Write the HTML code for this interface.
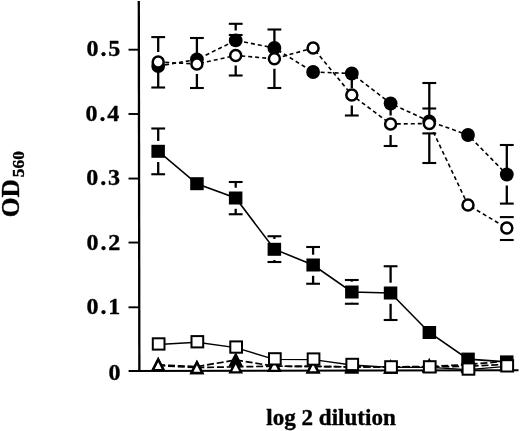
<!DOCTYPE html>
<html><head><meta charset="utf-8"><title>OD560 vs log 2 dilution</title>
<style>html,body{margin:0;padding:0;background:#fff}svg{display:block}</style></head>
<body>
<svg width="520" height="431" viewBox="0 0 520 431">
<rect width="520" height="431" fill="#fff"/>
<g stroke="#000" fill="none">
<line x1="138.8" y1="1" x2="139.35" y2="371.5" stroke-width="2.3"/>
<line x1="128.6" y1="371.05" x2="518.5" y2="370.2" stroke-width="2"/>
<line x1="128.5" y1="49.7" x2="139" y2="49.7" stroke-width="1.9"/>
<line x1="128.5" y1="114.0" x2="139" y2="114.0" stroke-width="1.9"/>
<line x1="128.5" y1="178.55" x2="139" y2="178.55" stroke-width="1.9"/>
<line x1="128.5" y1="242.55" x2="139" y2="242.55" stroke-width="1.9"/>
<line x1="128.5" y1="307.3" x2="139" y2="307.3" stroke-width="1.9"/>
</g>
<polyline points="158.2,364.9 196.9,366.6 235.7,360.0 274.4,366.2 313.1,366.4 351.8,366.9 390.6,366.9 429.3,366.5 468.0,364.5 506.8,361.2" fill="none" stroke="#000" stroke-width="1.7" stroke-dasharray="7 2.8"/>
<polyline points="158.2,365.5 196.9,367.6 235.7,366.8 274.4,366.2 313.1,366.4 351.8,366.9 390.6,366.9 429.3,367.0 468.0,366.3 506.8,364.3" fill="none" stroke="#000" stroke-width="1.7" stroke-dasharray="7 2.8"/>
<polygon points="158.2,359.5 163.6,370.1 152.8,370.1" fill="#000" stroke="#000" stroke-width="2.4" stroke-linejoin="miter"/>
<polygon points="196.9,362.4 202.3,373.0 191.5,373.0" fill="#000" stroke="#000" stroke-width="2.4" stroke-linejoin="miter"/>
<polygon points="235.7,354.6 241.1,365.2 230.3,365.2" fill="#000" stroke="#000" stroke-width="2.4" stroke-linejoin="miter"/>
<polygon points="274.4,360.3 279.8,370.9 269.0,370.9" fill="#000" stroke="#000" stroke-width="2.4" stroke-linejoin="miter"/>
<polygon points="313.1,361.8 318.5,372.4 307.7,372.4" fill="#000" stroke="#000" stroke-width="2.4" stroke-linejoin="miter"/>
<polygon points="351.8,361.9 357.2,372.5 346.4,372.5" fill="#000" stroke="#000" stroke-width="2.4" stroke-linejoin="miter"/>
<polygon points="390.6,362.0 396.0,372.6 385.2,372.6" fill="#000" stroke="#000" stroke-width="2.4" stroke-linejoin="miter"/>
<polygon points="429.3,360.5 434.7,371.1 423.9,371.1" fill="#000" stroke="#000" stroke-width="2.4" stroke-linejoin="miter"/>
<polygon points="468.0,359.8 473.4,370.4 462.6,370.4" fill="#000" stroke="#000" stroke-width="2.4" stroke-linejoin="miter"/>
<polygon points="506.8,358.8 512.2,369.4 501.4,369.4" fill="#000" stroke="#000" stroke-width="2.4" stroke-linejoin="miter"/>
<polygon points="158.2,359.5 163.6,370.1 152.8,370.1" fill="#fff" stroke="#000" stroke-width="2.4" stroke-linejoin="miter"/>
<polygon points="196.9,362.4 202.3,373.0 191.5,373.0" fill="#fff" stroke="#000" stroke-width="2.4" stroke-linejoin="miter"/>
<polygon points="235.7,361.8 241.1,372.4 230.3,372.4" fill="#fff" stroke="#000" stroke-width="2.4" stroke-linejoin="miter"/>
<polygon points="274.4,360.3 279.8,370.9 269.0,370.9" fill="#fff" stroke="#000" stroke-width="2.4" stroke-linejoin="miter"/>
<polygon points="313.1,361.8 318.5,372.4 307.7,372.4" fill="#fff" stroke="#000" stroke-width="2.4" stroke-linejoin="miter"/>
<polygon points="351.8,360.8 357.2,371.4 346.4,371.4" fill="#fff" stroke="#000" stroke-width="2.4" stroke-linejoin="miter"/>
<polygon points="390.6,362.0 396.0,372.6 385.2,372.6" fill="#fff" stroke="#000" stroke-width="2.4" stroke-linejoin="miter"/>
<polygon points="429.3,361.2 434.7,371.8 423.9,371.8" fill="#fff" stroke="#000" stroke-width="2.4" stroke-linejoin="miter"/>
<polygon points="468.0,361.2 473.4,371.8 462.6,371.8" fill="#fff" stroke="#000" stroke-width="2.4" stroke-linejoin="miter"/>
<polygon points="506.8,359.8 512.2,370.4 501.4,370.4" fill="#fff" stroke="#000" stroke-width="2.4" stroke-linejoin="miter"/>
<line x1="158.2" y1="37" x2="158.2" y2="52" stroke="#000" stroke-width="2.3"/>
<line x1="158.2" y1="66" x2="158.2" y2="87.5" stroke="#000" stroke-width="2.3"/>
<line x1="151.3" y1="37.1" x2="165.1" y2="37.1" stroke="#000" stroke-width="2.1"/>
<line x1="151.3" y1="87.5" x2="165.1" y2="87.5" stroke="#000" stroke-width="2.1"/>
<line x1="196.9" y1="38" x2="196.9" y2="59" stroke="#000" stroke-width="2.3"/>
<line x1="196.9" y1="74" x2="196.9" y2="88" stroke="#000" stroke-width="2.3"/>
<line x1="190.0" y1="38" x2="203.8" y2="38" stroke="#000" stroke-width="2.1"/>
<line x1="190.0" y1="88" x2="203.8" y2="88" stroke="#000" stroke-width="2.1"/>
<line x1="235.7" y1="23.8" x2="235.7" y2="30.5" stroke="#000" stroke-width="2.3"/>
<line x1="235.7" y1="65.5" x2="235.7" y2="75.5" stroke="#000" stroke-width="2.3"/>
<line x1="228.8" y1="23.8" x2="242.6" y2="23.8" stroke="#000" stroke-width="2.1"/>
<line x1="228.8" y1="35" x2="242.6" y2="35" stroke="#000" stroke-width="2.1"/>
<line x1="228.8" y1="75.5" x2="242.6" y2="75.5" stroke="#000" stroke-width="2.1"/>
<line x1="274.4" y1="29.5" x2="274.4" y2="47" stroke="#000" stroke-width="2.3"/>
<line x1="274.4" y1="68.75" x2="274.4" y2="88" stroke="#000" stroke-width="2.3"/>
<line x1="267.5" y1="29.5" x2="281.3" y2="29.5" stroke="#000" stroke-width="2.1"/>
<line x1="267.5" y1="88" x2="281.3" y2="88" stroke="#000" stroke-width="2.1"/>
<line x1="351.8" y1="73" x2="351.8" y2="88" stroke="#000" stroke-width="2.3"/>
<line x1="351.8" y1="105.5" x2="351.8" y2="115.5" stroke="#000" stroke-width="2.3"/>
<line x1="344.9" y1="115.5" x2="358.7" y2="115.5" stroke="#000" stroke-width="2.1"/>
<line x1="390.6" y1="103.5" x2="390.6" y2="115.5" stroke="#000" stroke-width="2.3"/>
<line x1="390.6" y1="135" x2="390.6" y2="146" stroke="#000" stroke-width="2.3"/>
<line x1="383.7" y1="146" x2="397.5" y2="146" stroke="#000" stroke-width="2.1"/>
<line x1="429.3" y1="83" x2="429.3" y2="120" stroke="#000" stroke-width="2.3"/>
<line x1="422.4" y1="83" x2="436.2" y2="83" stroke="#000" stroke-width="2.1"/>
<line x1="422.4" y1="108.5" x2="436.2" y2="108.5" stroke="#000" stroke-width="2.1"/>
<line x1="429.3" y1="133.4" x2="429.3" y2="163" stroke="#000" stroke-width="2.3"/>
<line x1="422.4" y1="133.4" x2="436.2" y2="133.4" stroke="#000" stroke-width="2.1"/>
<line x1="422.4" y1="163" x2="436.2" y2="163" stroke="#000" stroke-width="2.1"/>
<line x1="506.8" y1="145" x2="506.8" y2="170" stroke="#000" stroke-width="2.3"/>
<line x1="506.8" y1="185.5" x2="506.8" y2="203.6" stroke="#000" stroke-width="2.3"/>
<line x1="499.9" y1="145" x2="513.7" y2="145" stroke="#000" stroke-width="2.1"/>
<line x1="499.9" y1="203.6" x2="513.7" y2="203.6" stroke="#000" stroke-width="2.1"/>
<line x1="499.9" y1="217.1" x2="513.7" y2="217.1" stroke="#000" stroke-width="2.1"/>
<line x1="499.9" y1="240" x2="513.7" y2="240" stroke="#000" stroke-width="2.1"/>
<polyline points="158.2,66.0 196.9,59.5 235.7,40.4 274.4,48.0 313.1,72.0 351.8,73.5 390.6,103.5 429.3,121.3 468.0,135.0 506.8,174.5" fill="none" stroke="#000" stroke-width="1.6" stroke-dasharray="4 3"/>
<polyline points="158.2,62.0 196.9,64.0 235.7,55.5 274.4,58.8 313.1,48.0 351.8,95.0 390.6,124.0 429.3,123.5 468.0,205.0 506.8,228.0" fill="none" stroke="#000" stroke-width="1.6" stroke-dasharray="4 3"/>
<circle cx="158.2" cy="66" r="6.9" fill="#000"/>
<circle cx="196.9" cy="59.5" r="6.9" fill="#000"/>
<circle cx="235.7" cy="40.4" r="6.9" fill="#000"/>
<circle cx="274.4" cy="48" r="6.9" fill="#000"/>
<circle cx="313.1" cy="72" r="6.9" fill="#000"/>
<circle cx="351.8" cy="73.5" r="6.9" fill="#000"/>
<circle cx="390.6" cy="103.5" r="6.9" fill="#000"/>
<circle cx="429.3" cy="121.3" r="6.9" fill="#000"/>
<circle cx="468.0" cy="135" r="6.9" fill="#000"/>
<circle cx="506.8" cy="174.5" r="6.9" fill="#000"/>
<circle cx="158.2" cy="62" r="5.5" fill="#fff" stroke="#000" stroke-width="2.5"/>
<circle cx="196.9" cy="64" r="5.5" fill="#fff" stroke="#000" stroke-width="2.5"/>
<circle cx="235.7" cy="55.5" r="5.5" fill="#fff" stroke="#000" stroke-width="2.5"/>
<circle cx="274.4" cy="58.75" r="5.5" fill="#fff" stroke="#000" stroke-width="2.5"/>
<circle cx="313.1" cy="48" r="5.5" fill="#fff" stroke="#000" stroke-width="2.5"/>
<circle cx="351.8" cy="95" r="5.5" fill="#fff" stroke="#000" stroke-width="2.5"/>
<circle cx="390.6" cy="124" r="5.5" fill="#fff" stroke="#000" stroke-width="2.5"/>
<circle cx="429.3" cy="123.5" r="5.5" fill="#fff" stroke="#000" stroke-width="2.5"/>
<circle cx="468.0" cy="205" r="5.5" fill="#fff" stroke="#000" stroke-width="2.5"/>
<circle cx="506.8" cy="228" r="5.5" fill="#fff" stroke="#000" stroke-width="2.5"/>
<line x1="151.3" y1="128.5" x2="165.1" y2="128.5" stroke="#000" stroke-width="2.1"/>
<line x1="151.3" y1="174.25" x2="165.1" y2="174.25" stroke="#000" stroke-width="2.1"/>
<line x1="158.2" y1="128.5" x2="158.2" y2="140.95" stroke="#000" stroke-width="2.3"/>
<line x1="158.2" y1="162.05" x2="158.2" y2="174.25" stroke="#000" stroke-width="2.3"/>
<line x1="228.8" y1="182" x2="242.6" y2="182" stroke="#000" stroke-width="2.1"/>
<line x1="228.8" y1="214.25" x2="242.6" y2="214.25" stroke="#000" stroke-width="2.1"/>
<line x1="235.7" y1="182" x2="235.7" y2="187.7" stroke="#000" stroke-width="2.3"/>
<line x1="235.7" y1="208.8" x2="235.7" y2="214.25" stroke="#000" stroke-width="2.3"/>
<line x1="267.5" y1="236.25" x2="281.3" y2="236.25" stroke="#000" stroke-width="2.1"/>
<line x1="267.5" y1="262" x2="281.3" y2="262" stroke="#000" stroke-width="2.1"/>
<line x1="274.4" y1="236.25" x2="274.4" y2="238.95" stroke="#000" stroke-width="2.3"/>
<line x1="274.4" y1="260.05" x2="274.4" y2="262" stroke="#000" stroke-width="2.3"/>
<line x1="306.2" y1="247" x2="320.0" y2="247" stroke="#000" stroke-width="2.1"/>
<line x1="306.2" y1="283.75" x2="320.0" y2="283.75" stroke="#000" stroke-width="2.1"/>
<line x1="313.1" y1="247" x2="313.1" y2="254.7" stroke="#000" stroke-width="2.3"/>
<line x1="313.1" y1="275.8" x2="313.1" y2="283.75" stroke="#000" stroke-width="2.3"/>
<line x1="344.9" y1="280" x2="358.7" y2="280" stroke="#000" stroke-width="2.1"/>
<line x1="344.9" y1="303.75" x2="358.7" y2="303.75" stroke="#000" stroke-width="2.1"/>
<line x1="351.8" y1="280" x2="351.8" y2="281.7" stroke="#000" stroke-width="2.3"/>
<line x1="351.8" y1="302.8" x2="351.8" y2="303.75" stroke="#000" stroke-width="2.3"/>
<line x1="383.7" y1="266.25" x2="397.5" y2="266.25" stroke="#000" stroke-width="2.1"/>
<line x1="383.7" y1="320" x2="397.5" y2="320" stroke="#000" stroke-width="2.1"/>
<line x1="390.6" y1="266.25" x2="390.6" y2="282.7" stroke="#000" stroke-width="2.3"/>
<line x1="390.6" y1="303.8" x2="390.6" y2="320" stroke="#000" stroke-width="2.3"/>
<polyline points="158.2,151.2 196.9,183.8 235.7,198.0 274.4,249.2 313.1,265.0 351.8,292.0 390.6,293.0 429.3,332.5 468.0,359.1 506.8,361.9" fill="none" stroke="#000" stroke-width="1.6"/>
<rect x="151.4" y="144.8" width="13.5" height="13" fill="#000"/>
<rect x="190.2" y="177.2" width="13.5" height="13" fill="#000"/>
<rect x="228.9" y="191.5" width="13.5" height="13" fill="#000"/>
<rect x="267.6" y="242.8" width="13.5" height="13" fill="#000"/>
<rect x="306.4" y="258.5" width="13.5" height="13" fill="#000"/>
<rect x="345.1" y="285.5" width="13.5" height="13" fill="#000"/>
<rect x="383.8" y="286.5" width="13.5" height="13" fill="#000"/>
<rect x="422.6" y="326.0" width="13.5" height="13" fill="#000"/>
<rect x="461.3" y="352.6" width="13.5" height="13" fill="#000"/>
<rect x="500.0" y="355.4" width="13.5" height="13" fill="#000"/>
<polyline points="158.2,344.5 196.9,342.3 235.7,347.6 274.4,359.4 313.1,359.6 351.8,365.0 390.6,367.4 429.3,367.4 468.0,369.6 506.8,366.4" fill="none" stroke="#000" stroke-width="1.4"/>
<rect x="152.8" y="338.3" width="11.7" height="11.3" fill="#fff" stroke="#000" stroke-width="2"/>
<rect x="191.5" y="336.1" width="11.7" height="11.3" fill="#fff" stroke="#000" stroke-width="2"/>
<rect x="230.3" y="341.4" width="11.7" height="11.3" fill="#fff" stroke="#000" stroke-width="2"/>
<rect x="269.0" y="353.2" width="11.7" height="11.3" fill="#fff" stroke="#000" stroke-width="2"/>
<rect x="307.7" y="353.4" width="11.7" height="11.3" fill="#fff" stroke="#000" stroke-width="2"/>
<rect x="346.4" y="358.8" width="11.7" height="11.3" fill="#fff" stroke="#000" stroke-width="2"/>
<rect x="385.2" y="361.2" width="11.7" height="11.3" fill="#fff" stroke="#000" stroke-width="2"/>
<rect x="423.9" y="361.2" width="11.7" height="11.3" fill="#fff" stroke="#000" stroke-width="2"/>
<rect x="462.6" y="363.4" width="11.7" height="11.3" fill="#fff" stroke="#000" stroke-width="2"/>
<rect x="501.4" y="360.2" width="11.7" height="11.3" fill="#fff" stroke="#000" stroke-width="2"/>
<g font-family="'Liberation Serif', serif" font-weight="bold" fill="#000" stroke="#000" stroke-width="0.35">
<text x="120.3" y="56.3" font-size="24" text-anchor="end" textLength="33.8" lengthAdjust="spacing">0.5</text>
<text x="119.3" y="120.6" font-size="24" text-anchor="end" textLength="33.8" lengthAdjust="spacing">0.4</text>
<text x="120.1" y="185.3" font-size="24" text-anchor="end" textLength="33.8" lengthAdjust="spacing">0.3</text>
<text x="120.3" y="249.7" font-size="24" text-anchor="end" textLength="33.8" lengthAdjust="spacing">0.2</text>
<text x="120.3" y="314.4" font-size="24" text-anchor="end" textLength="33.8" lengthAdjust="spacing">0.1</text>
<text x="120.5" y="379.7" font-size="24" text-anchor="end">0</text>
<text x="266.3" y="424.9" font-size="22.5" textLength="129.5" lengthAdjust="spacingAndGlyphs">log 2 dilution</text>
<g transform="translate(19.1,217.2) rotate(-90)"><text x="0" y="0" font-size="25" textLength="38" lengthAdjust="spacingAndGlyphs">OD</text><text x="40" y="5" font-size="17" textLength="26" lengthAdjust="spacingAndGlyphs">560</text></g>
</g>
</svg>
</body></html>
